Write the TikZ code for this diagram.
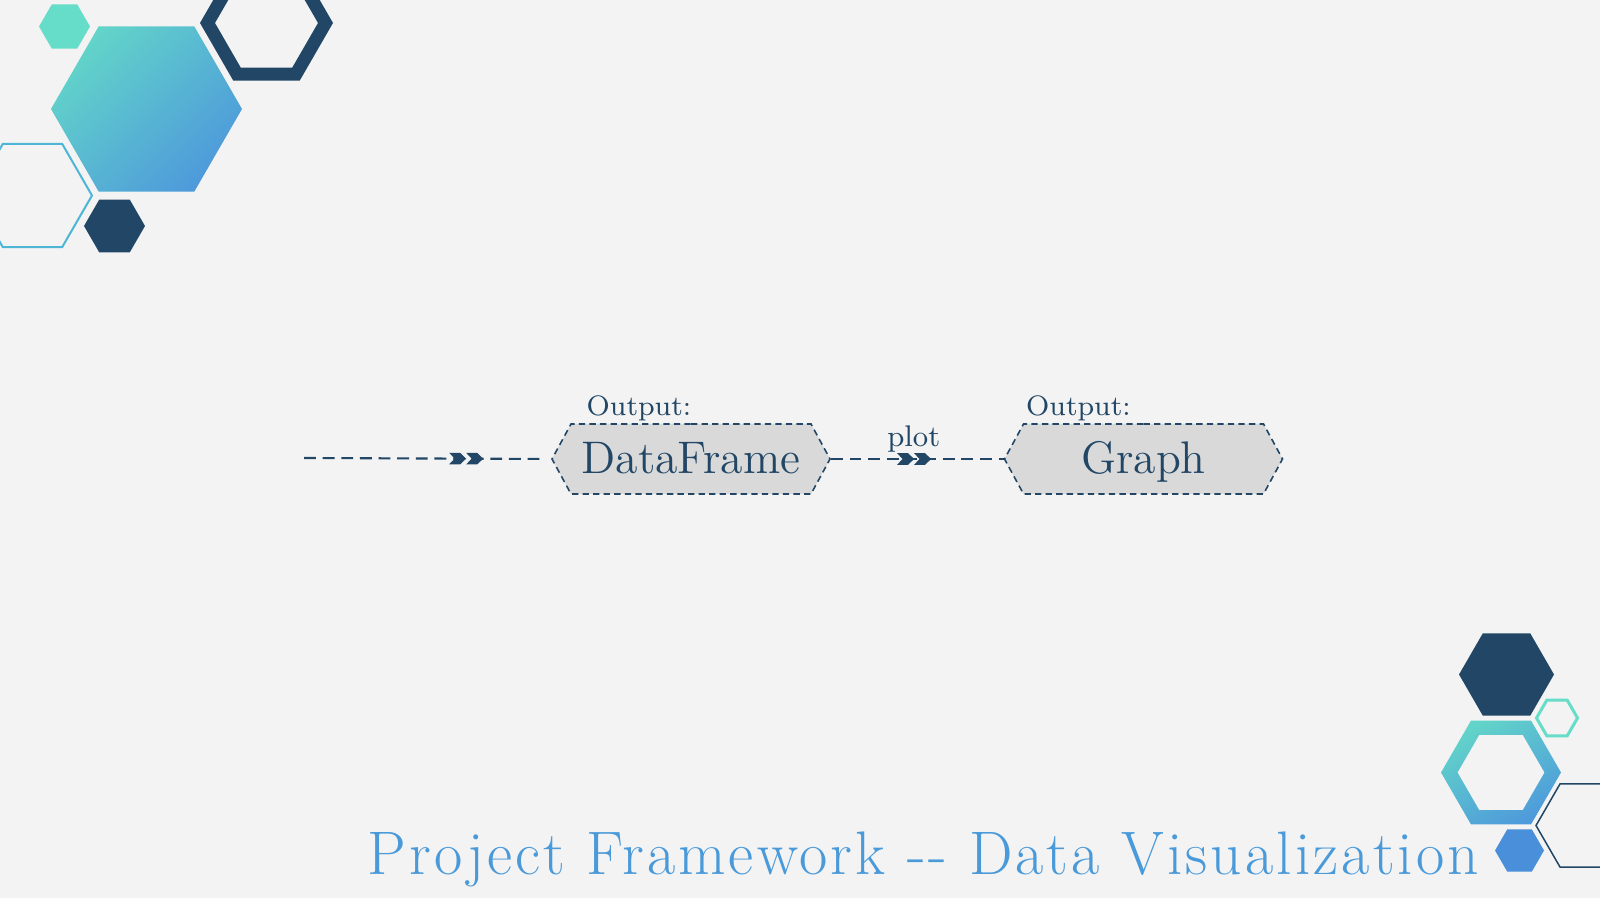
\documentclass[tikz,border=0pt]{standalone}
\usepackage{fontspec}
\usetikzlibrary{shapes.symbols,decorations.markings,calc}
\definecolor{navy}{HTML}{224766}
\definecolor{bggray}{HTML}{F3F3F3}
\definecolor{boxgray}{HTML}{D9D9D9}
\definecolor{mint}{HTML}{66DDC8}
\definecolor{tealc}{HTML}{62D4C9}
\definecolor{skyblue}{HTML}{4E9ADB}
\definecolor{lineblue}{HTML}{4DB6D6}
\definecolor{deepblue}{HTML}{4A8FDA}
\definecolor{titleblue}{HTML}{4A9ADA}
\newfontfamily\titlefont[LetterSpace=5]{Latin Modern Roman}
\newcommand{\hexpath}[3]{({#1+#3},{#2}) -- ++(120:#3) -- ++(180:#3) -- ++(240:#3) -- ++(300:#3) -- ++(0:#3) -- cycle}
% two filled chevrons, tip at the mark
\newcommand{\chevpair}{%
  \foreach \dx in {0,-0.17}
    \fill[navy] (\dx,0) -- ++(-0.06,0.058) -- ++(-0.11,0) -- ++(0.055,-0.058) -- ++(-0.055,-0.058) -- ++(0.11,0) -- cycle;}
\tikzset{
  flow/.style={draw=navy,line width=0.6pt,dash pattern=on 3.4pt off 1.9pt},
  outbox/.style={signal,signal to=west and east,signal pointer angle=123,
    fill=boxgray,draw=navy,line width=0.45pt,dash pattern=on 1.8pt off 1.2pt,
    text=navy,text width=2.40cm,align=center,inner xsep=0pt,inner ysep=0pt,
    text height=0.5cm,text depth=0.2cm,font=\fontsize{13}{15}\selectfont},
  outlbl/.style={anchor=base west,text=navy,inner sep=0pt,font=\fontsize{8}{10}\selectfont},
}
\begin{document}
\begin{tikzpicture}
\fill[bggray] (0,0) rectangle (16,8.98);
\useasboundingbox (0,0) rectangle (16,8.98);
% corner hexagons, top left
\fill[mint] \hexpath{0.645}{8.715}{0.255};
\shade[top color=tealc,bottom color=skyblue,shading angle=45] \hexpath{1.465}{7.89}{0.955};
\draw[navy,line width=0.13cm,line join=miter] \hexpath{2.665}{8.75}{0.59};
\draw[lineblue,line width=0.02cm] \hexpath{0.325}{7.025}{0.595};
\fill[navy] \hexpath{1.145}{6.72}{0.305};
% corner hexagons, bottom right
\fill[navy] \hexpath{15.065}{2.235}{0.475};
\draw[mint,line width=0.03cm] \hexpath{15.57}{1.80}{0.205};
\shade[even odd rule,top color=tealc,bottom color=skyblue,shading angle=30] \hexpath{15.01}{1.255}{0.60} \hexpath{15.01}{1.255}{0.435};
\draw[navy,line width=0.015cm] \hexpath{15.84}{0.725}{0.48};
\fill[deepblue] \hexpath{15.195}{0.475}{0.245};
% flow
\coordinate (start) at (3.04,4.40);
\node[outbox] (df) at (6.91,4.39) {DataFrame};
\node[outbox] (gr) at (11.435,4.39) {Graph};
\node[outlbl] (dfout) at (5.86,4.82) {Output:};
\node[outlbl] (grout) at (10.255,4.82) {Output:};
\draw[flow,shorten >=2pt,postaction={decorate},
  decoration={markings,mark=at position 0.725 with {\chevpair}}] (start) -- (df.west);
\draw[flow,postaction={decorate},
  decoration={markings,mark=at position 0.58 with {\chevpair}}] (df.east) --
  node[pos=0.48,anchor=base,yshift=0.12cm,text=navy,inner sep=0pt,font=\fontsize{8.5}{10}\selectfont] (plotlbl) {plot} (gr.west);
\node[anchor=base,text=titleblue,inner sep=0pt,font=\titlefont\fontsize{17.5}{20}\selectfont] (title) at (9.235,0.235) {Project Framework -{}- Data Visualization};
\end{tikzpicture}
\end{document}
